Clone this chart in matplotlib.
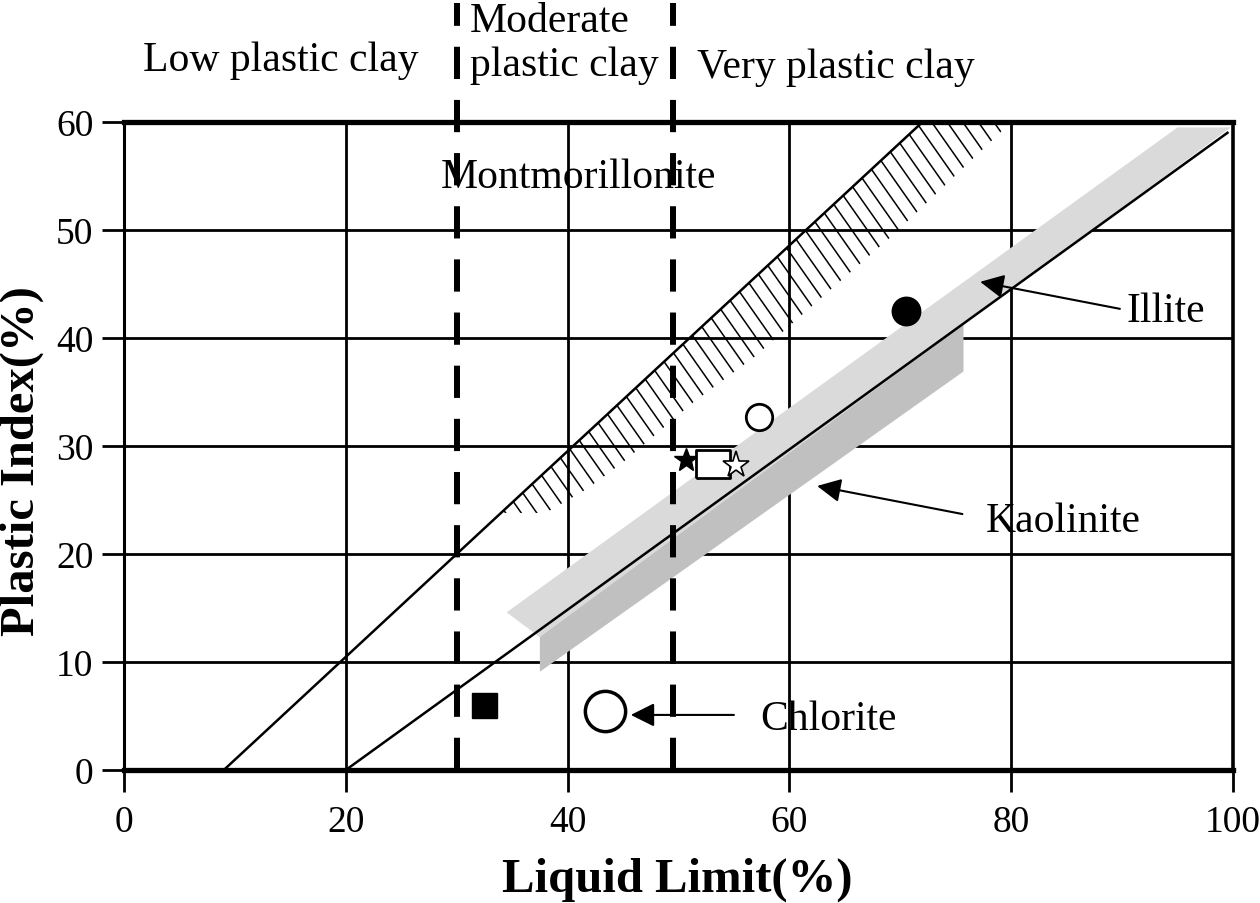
import numpy as np
import matplotlib.pyplot as plt
from matplotlib.patches import Polygon
from matplotlib.collections import LineCollection

plt.rcParams['font.family'] = ['Liberation Serif', 'DejaVu Serif']

# ==========================================
# data
# ==========================================
ticks_ll = [0, 20, 40, 60, 80, 100]
ticks_pi = [0, 10, 20, 30, 40, 50, 60]

# upper line and A-line
u_line_ll = [9, 72]
u_line_pi = [0, 60]
a_line_ll = [20, 99.5]
a_line_pi = [0, 59]

# mineral zones
mont_ll = [34.0, 72, 80, 69.3, 63.5, 56.9, 51.4, 45.0, 41.7, 38.0]
mont_pi = [23.8, 60, 60, 49.5, 44.3, 38.3, 34.1, 28.5, 26.0, 23.8]
illite_ll = [34.5, 95, 99.8, 37.5]
illite_pi = [14.6, 59.5, 59.5, 12.3]
kaol_ll = [37.5, 37.5, 75.7, 75.7]
kaol_pi = [9.1, 12.4, 41.3, 36.9]

# plasticity class boundaries (LL)
class_bounds = [30, 49.5]
class_names = ['Low plastic clay', 'Moderate', 'plastic clay', 'Very plastic clay']
class_ll = [14.1, 31.2, 31.2, 64.2]
class_pi = [65.75, 69.4, 65.3, 65.1]

# samples
sample_ll = [70.5, 57.3, 50.7, 53.1, 55.2, 32.5, 43.4]
sample_pi = [42.5, 32.7, 28.7, 28.3, 28.2, 6.0, 5.5]

# mineral labels + arrows
mineral_names = ['Illite', 'Kaolinite', 'Chlorite']
mineral_text_ll = [93.9, 84.7, 63.5]
mineral_text_pi = [42.5, 23.1, 4.7]
arrow_tail_ll = [89.8, 75.6, 55.0]
arrow_tail_pi = [42.7, 23.7, 5.1]
arrow_head_ll = [77.2, 62.5, 45.7]
arrow_head_pi = [45.2, 26.3, 5.1]

# ==========================================
# styles
# ==========================================
rect = [(-1.2, -1), (1.2, -1), (1.2, 1), (-1.2, 1), (-1.2, -1)]
sample_styles = [
    dict(marker='o', ms=20, mfc='black', mec='black', mew=1.5),
    dict(marker='o', ms=19, mfc='white', mec='black', mew=2.0),
    dict(marker='*', ms=18, mfc='black', mec='black', mew=1.0),
    dict(marker=rect, ms=24, mfc='white', mec='black', mew=2.0),
    dict(marker='*', ms=20, mfc='white', mec='black', mew=1.2),
    dict(marker='s', ms=18, mfc='black', mec='black', mew=1.0),
    dict(marker='o', ms=29, mfc='white', mec='black', mew=2.5),
]

fig = plt.figure(figsize=(12.6, 9.04), dpi=100)
ax = fig.add_axes([124 / 1260, 1 - 771 / 904, 1109 / 1260, 648 / 904])

ax.set_xlim(0, 100)
ax.set_ylim(0, 60)
ax.set_xticks(ticks_ll)
ax.set_yticks(ticks_pi)
ax.grid(True, color='black', lw=2.0, zorder=1)
ax.set_axisbelow(True)
ax.tick_params(direction='out', length=16, width=2.0, labelsize=27, pad=6)
ax.tick_params(axis='x', pad=9)

ax.spines['top'].set_linewidth(3.8)
ax.spines['bottom'].set_linewidth(3.8)
ax.spines['left'].set_linewidth(2.2)
ax.spines['right'].set_linewidth(2.6)

# zones
ax.add_patch(Polygon(list(zip(kaol_ll, kaol_pi)), closed=True, fc='#c0c0c0', ec='none', zorder=2))
ax.add_patch(Polygon(list(zip(illite_ll, illite_pi)), closed=True, fc='#dadada', ec='none', zorder=2))

mont_patch = Polygon(list(zip(mont_ll, mont_pi)), closed=True, fc='none', ec='none', zorder=2)
ax.add_patch(mont_patch)

# hatch lines for montmorillonite, clipped to the zone
slope = (u_line_pi[1] - u_line_pi[0]) / (u_line_ll[1] - u_line_ll[0])
d = np.array([0.564, -0.826])
segs = []
for x0 in np.arange(30, 92, 0.85):
    y0 = u_line_pi[0] + slope * (x0 - u_line_ll[0])
    segs.append([(x0, y0), (x0 + 25 * d[0], y0 + 25 * d[1])])
lc = LineCollection(segs, colors='black', linewidths=1.1, zorder=3)
ax.add_collection(lc)
lc.set_clip_path(mont_patch)

# lines
ax.plot(u_line_ll, u_line_pi, color='black', lw=1.8, zorder=4)
ax.plot(a_line_ll, a_line_pi, color='black', lw=1.8, zorder=4)

# class boundaries
for xb in class_bounds:
    ax.plot([xb, xb], [0, 71], color='black', lw=4.3, ls=(0, (5.4, 3.5)),
            clip_on=False, zorder=5)
for name, x, y in zip(class_names, class_ll, class_pi):
    ha = 'left' if name in ('Moderate', 'plastic clay') else 'center'
    ax.text(x, y, name, fontsize=30, ha=ha, va='center', clip_on=False)

ax.text(41, 54.9, 'Montmorillonite', fontsize=30, ha='center', va='center', zorder=6)

# samples
for x, y, st in zip(sample_ll, sample_pi, sample_styles):
    ax.plot([x], [y], ls='none', zorder=7, **st)

# mineral labels
for i, name in enumerate(mineral_names):
    ax.text(mineral_text_ll[i], mineral_text_pi[i], name, fontsize=30,
            ha='center', va='center', zorder=6)
    ax.annotate('', xy=(arrow_head_ll[i], arrow_head_pi[i]),
                xytext=(arrow_tail_ll[i], arrow_tail_pi[i]),
                arrowprops=dict(arrowstyle='-|>', color='black', lw=1.5,
                                mutation_scale=36, shrinkA=0, shrinkB=0),
                zorder=6)

# axis titles
fig.text(677 / 1260, 1 - 880 / 904, 'Liquid Limit(%)', fontsize=35,
         fontweight='bold', ha='center', va='center')
fig.text(22 / 1260, 1 - 461 / 904, 'Plastic Index(%)', fontsize=35,
         fontweight='bold', ha='center', va='center', rotation=90)

fig.savefig('out.png', dpi=100)
